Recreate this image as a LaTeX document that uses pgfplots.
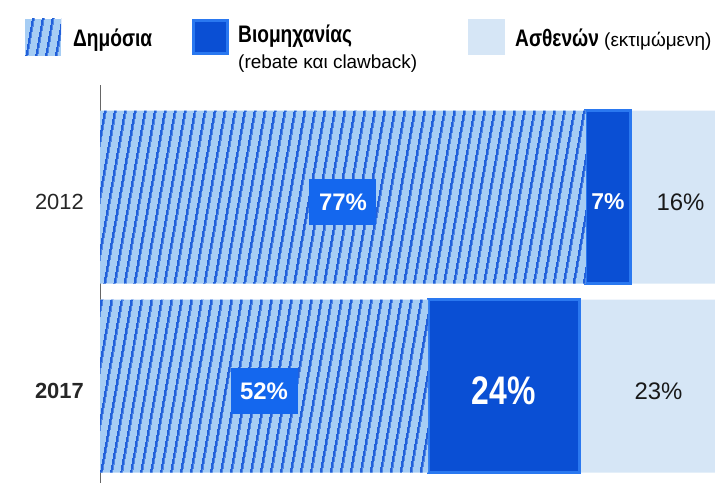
\documentclass[border=0pt]{standalone}
\usepackage{pgfplots}
\pgfplotsset{compat=1.18}
\usepackage{pgfplotstable}
\usepackage{fontspec}
\setmainfont{Liberation Sans}
\newfontfamily\condfont{Liberation Sans}[FakeStretch=0.8]
\usetikzlibrary{patterns.meta}

\definecolor{hatchbg}{HTML}{A6CDF4}
\definecolor{hatchln}{HTML}{2160DA}
\definecolor{indfill}{HTML}{0A4FD4}
\definecolor{indedge}{HTML}{2A78F0}
\definecolor{patfill}{HTML}{D6E6F6}
\definecolor{lblbox}{HTML}{1467EE}
\definecolor{axisgrey}{HTML}{666666}

% shares of spending: public, industry (rebate/clawback), patients
\pgfplotstableread{
y pub ind pat
1 77 7  16
0 52 24 23
}\shares

\begin{document}
\begin{tikzpicture}[x=1bp,y=1bp]
\begin{axis}[
  at={(100bp,0bp)}, anchor=south west,
  scale only axis, width=631bp, height=398bp,
  xbar stacked, bar width=0.915, bar shift=0pt,
  xmin=0, xmax=100, ymin=-0.513, ymax=1.593,
  axis x line=none, axis y line*=left,
  y axis line style={axisgrey, line width=1bp},
  ytick={0,1}, yticklabels={\textbf{2017},2012},
  major tick length=0pt,
  yticklabel style={font=\fontsize{22}{24}\selectfont, text=black!85,
    inner sep=0pt, xshift=-16bp, yshift=-5bp},
  clip=true,
]
\addplot[fill=hatchbg, draw=none,
  postaction={pattern={Lines[angle=80,distance=9.5bp,line width=2.6bp]},
    pattern color=hatchln}] table[x=pub,y=y]{\shares};
\addplot[fill=indfill, draw=indedge, line width=3bp] table[x=ind,y=y]{\shares};
\addplot[fill=patfill, draw=none] table[x=pat,y=y]{\shares};
\end{axis}

% value labels
\begin{axis}[
  at={(100bp,0bp)}, anchor=south west,
  scale only axis, width=631bp, height=398bp,
  xmin=0, xmax=100, ymin=-0.513, ymax=1.593,
  hide axis, clip=false,
  nodes near coords, point meta=explicit symbolic,
  every node near coord/.append style={anchor=center, yshift=-5bp},
]
\addplot[only marks, mark=none,
  every node near coord/.append style={fill=lblbox, text=white,
    font=\bfseries\fontsize{24}{26}\selectfont,
    minimum width=67bp, minimum height=46bp, inner sep=0pt}]
  coordinates {(38.5,1) [77\%] (26,0) [52\%]};
\addplot[only marks, mark=none,
  every node near coord/.append style={text=white,
    font=\bfseries\fontsize{23}{25}\selectfont}]
  coordinates {(80.5,1) [7\%]};
\addplot[only marks, mark=none,
  every node near coord/.append style={text=white,
    font=\condfont\bfseries\fontsize{40}{42}\selectfont}]
  coordinates {(64,0) [24\%]};
\addplot[only marks, mark=none,
  every node near coord/.append style={text=black!90,
    font=\fontsize{24}{26}\selectfont}]
  coordinates {(92,1) [16\%] (88.5,0) [23\%]};
\end{axis}

% legend
\fill[hatchbg] (25,427) rectangle (61,464);
\fill[pattern={Lines[angle=80,distance=9.5bp,line width=2.6bp]}, pattern color=hatchln]
  (25,427) rectangle (61,464);
\fill[indfill, draw=indedge, line width=3bp] (193.5,429.5) rectangle (227.5,462.5);
\fill[patfill] (468,428) rectangle (505,464);
\node[anchor=base west, inner sep=0pt, font=\condfont\bfseries\fontsize{24}{26}\selectfont]
  at (73,436) {Δημόσια};
\node[anchor=base west, inner sep=0pt, font=\condfont\bfseries\fontsize{24}{26}\selectfont]
  at (238,440) {Βιομηχανίας};
\node[anchor=base west, inner sep=0pt, font=\fontsize{19}{21}\selectfont]
  at (238,414) {(rebate και clawback)};
\node[anchor=base west, inner sep=0pt, font=\fontsize{19}{21}\selectfont]
  at (515,436) {{\condfont\bfseries\fontsize{24}{26}\selectfont Ασθενών} (εκτιμώμενη)};

\pgfresetboundingbox
\path[use as bounding box] (0,0) rectangle (715,483);
\end{tikzpicture}
\end{document}
